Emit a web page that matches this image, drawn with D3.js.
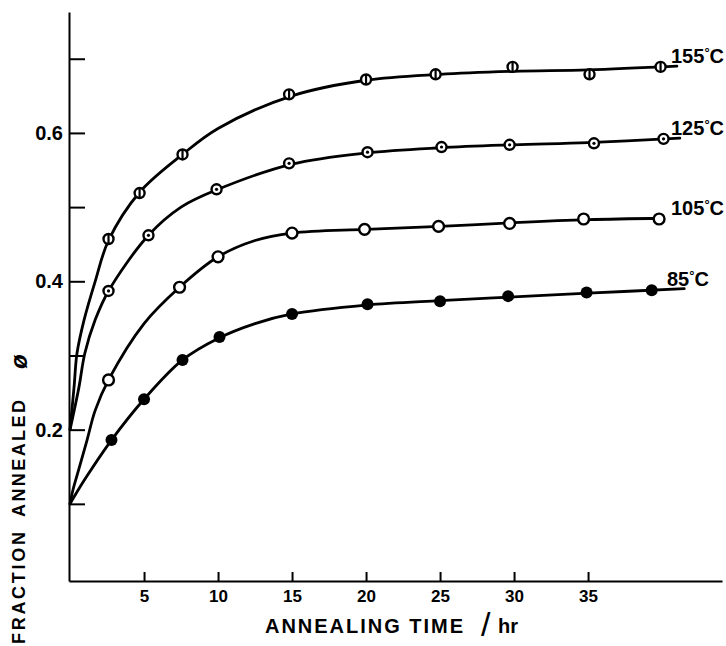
<!DOCTYPE html>
<html>
<head>
<meta charset="utf-8">
<script src="https://cdn.jsdelivr.net/npm/d3@7"></script>
<style>
  html, body { margin: 0; padding: 0; background: #fff; }
  svg { display: block; }
  text { font-family: 'Liberation Sans', Arial, sans-serif; fill: #000; }
</style>
</head>
<body>
<svg id="chart" width="726" height="646"></svg>
<script>
// measured points, hours and fraction annealed, per temperature
var hours155 = [2.6, 4.7, 7.6, 14.8, 20.0, 24.7, 29.9, 35.1, 39.9]
var phi155 = [0.457, 0.519, 0.571, 0.652, 0.672, 0.679, 0.689, 0.679, 0.689]
var hours125 = [2.6, 5.3, 9.9, 14.8, 20.1, 25.1, 29.7, 35.4, 40.1]
var phi125 = [0.387, 0.462, 0.524, 0.559, 0.574, 0.581, 0.584, 0.586, 0.592]
var hours105 = [2.6, 7.4, 10.0, 15.0, 19.9, 24.9, 29.7, 34.7, 39.8]
var phi105 = [0.267, 0.392, 0.433, 0.465, 0.470, 0.474, 0.478, 0.484, 0.484]
var hours85 = [2.8, 5.0, 7.6, 10.1, 15.0, 20.1, 25.0, 29.6, 34.9, 39.3]
var phi85 = [0.186, 0.241, 0.294, 0.325, 0.356, 0.369, 0.373, 0.380, 0.385, 0.388]

// the hand drawn curves
var curveHours155 = [0, 0.27, 0.47, 0.95, 1.7, 2.6, 4.7, 7.6, 10, 15, 20, 25, 30, 35, 41]
var curvePhi155 = [0.2, 0.257, 0.303, 0.348, 0.40, 0.455, 0.52, 0.571, 0.606, 0.65, 0.671, 0.679, 0.683, 0.685, 0.69]
var curveHours125 = [0, 0.6, 1.0, 1.7, 2.6, 5.3, 7.5, 10, 15, 20, 25, 30, 35, 41.2]
var curvePhi125 = [0.2, 0.257, 0.303, 0.348, 0.387, 0.462, 0.50, 0.524, 0.558, 0.573, 0.58, 0.584, 0.587, 0.593]
var curveHours105 = [0, 0.2, 0.6, 1.15, 1.7, 2.6, 5, 7.4, 10, 12.5, 15, 20, 25, 30, 35, 40]
var curvePhi105 = [0.1, 0.119, 0.147, 0.186, 0.226, 0.267, 0.343, 0.392, 0.433, 0.455, 0.465, 0.47, 0.474, 0.479, 0.483, 0.485]
var curveHours85 = [0, 1, 2.8, 5, 7.6, 10, 12.5, 15, 20, 25, 30, 35, 41.5]
var curvePhi85 = [0.1, 0.133, 0.186, 0.241, 0.294, 0.323, 0.343, 0.356, 0.368, 0.374, 0.379, 0.384, 0.39]

var temperatures = ['155', '125', '105', '85']
var markerKinds = ['bar', 'dot', 'open', 'filled']

var xTicks = [5, 10, 15, 20, 25, 30, 35]
var yTicks = [0.1, 0.2, 0.3, 0.4, 0.5, 0.6, 0.7]
var yLabelled = [0.2, 0.4, 0.6]

var series = [
  { temp: temperatures[0], kind: markerKinds[0], hours: hours155, phi: phi155, curveHours: curveHours155, curvePhi: curvePhi155 },
  { temp: temperatures[1], kind: markerKinds[1], hours: hours125, phi: phi125, curveHours: curveHours125, curvePhi: curvePhi125 },
  { temp: temperatures[2], kind: markerKinds[2], hours: hours105, phi: phi105, curveHours: curveHours105, curvePhi: curvePhi105 },
  { temp: temperatures[3], kind: markerKinds[3], hours: hours85, phi: phi85, curveHours: curveHours85, curvePhi: curvePhi85 }
]

var svg = d3.select('#chart')

var x = d3.scaleLinear().domain([-0.07, 44.05]).range([69, 722])
var y = d3.scaleLinear().domain([-0.004, 0.763]).range([581, 12])

// axes, ticks pointing inward like the original
var xAxis = d3.axisBottom(x)
  .tickValues(xTicks)
  .tickSizeInner(-9)
  .tickSizeOuter(0)
  .tickPadding(9)
  .tickFormat(d3.format('d'))

var yAxis = d3.axisLeft(y)
  .tickValues(yTicks)
  .tickSizeInner(-16)
  .tickSizeOuter(0)
  .tickPadding(6)
  .tickFormat(function(d) {
    return yLabelled.some(function(v) { return Math.abs(v - d) < 1e-9 }) ? d3.format('.1f')(d) : ''
  })

var gx = svg.append('g').attr('transform', 'translate(0,' + y(-0.004) + ')').call(xAxis)
var gy = svg.append('g').attr('transform', 'translate(' + x(-0.07) + ',0)').call(yAxis)

gx.selectAll('path, line').attr('stroke', '#000').attr('stroke-width', 2)
gy.selectAll('path, line').attr('stroke', '#000').attr('stroke-width', 2)
gx.selectAll('text')
  .attr('font-size', 17).attr('font-weight', 'bold')
  .style('font-family', "'Liberation Sans', Arial, sans-serif")
gy.selectAll('text')
  .attr('font-size', 20).attr('font-weight', 'bold')
  .style('font-family', "'Liberation Sans', Arial, sans-serif")

// curves
var line = d3.line()
  .x(function(d) { return x(d[0]) })
  .y(function(d) { return y(d[1]) })
  .curve(d3.curveCatmullRom.alpha(0.5))

series.forEach(function(s) {
  var pts = s.curveHours.map(function(h, i) { return [h, s.curvePhi[i]] })
  svg.append('path')
    .attr('d', line(pts))
    .attr('fill', 'none')
    .attr('stroke', '#000')
    .attr('stroke-width', 2.8)
    .attr('stroke-linecap', 'round')
})

// markers
series.forEach(function(s) {
  var pts = s.hours.map(function(h, i) { return [h, s.phi[i]] })
  var g = svg.append('g').selectAll('g').data(pts).enter().append('g')
    .attr('transform', function(d) { return 'translate(' + x(d[0]) + ',' + y(d[1]) + ')' })

  if (s.kind == 'filled') {
    g.append('circle').attr('r', 6).attr('fill', '#000')
  } else {
    g.append('circle')
      .attr('r', s.kind == 'open' ? 5.4 : 5)
      .attr('fill', '#fff')
      .attr('stroke', '#000')
      .attr('stroke-width', 2.4)
  }
  if (s.kind == 'bar') {
    g.append('line')
      .attr('x1', 0).attr('x2', 0).attr('y1', -4.5).attr('y2', 4.5)
      .attr('stroke', '#000').attr('stroke-width', 2.2)
  }
  if (s.kind == 'dot') {
    g.append('circle').attr('r', 1.6).attr('fill', '#000')
  }
})

// temperature labels next to the curve ends
series.forEach(function(s) {
  var last = s.curvePhi[s.curvePhi.length - 1]
  var t = svg.append('text')
    .attr('x', s.temp.length == 2 ? 667 : 671)
    .attr('y', y(last) - 3)
    .attr('font-size', 20)
    .attr('font-weight', 'bold')
  t.append('tspan').text(s.temp)
  t.append('tspan').attr('font-size', 13).attr('dy', -6).text('°')
  t.append('tspan').attr('dy', 6).text('C')
})

// axis titles
svg.append('text')
  .attr('x', 265)
  .attr('y', 633)
  .attr('font-size', 20)
  .attr('font-weight', 'bold')
  .attr('textLength', 198)
  .attr('lengthAdjust', 'spacing')
  .text('ANNEALING TIME')

svg.append('text')
  .attr('x', 481)
  .attr('y', 636)
  .attr('font-size', 34)
  .text('/')

svg.append('text')
  .attr('x', 498)
  .attr('y', 633)
  .attr('font-size', 20)
  .attr('font-weight', 'bold')
  .text('hr')

svg.append('text')
  .attr('transform', 'translate(25,644) rotate(-90)')
  .attr('font-size', 18)
  .attr('font-weight', 'bold')
  .attr('textLength', 112)
  .attr('lengthAdjust', 'spacing')
  .text('FRACTION')

svg.append('text')
  .attr('transform', 'translate(25,517) rotate(-90)')
  .attr('font-size', 18)
  .attr('font-weight', 'bold')
  .attr('textLength', 117)
  .attr('lengthAdjust', 'spacing')
  .text('ANNEALED')

svg.append('text')
  .attr('transform', 'translate(27,369) rotate(-90)')
  .attr('font-size', 24)
  .attr('font-style', 'italic')
  .attr('font-weight', 'bold')
  .text('ø')
</script>
</body>
</html>
